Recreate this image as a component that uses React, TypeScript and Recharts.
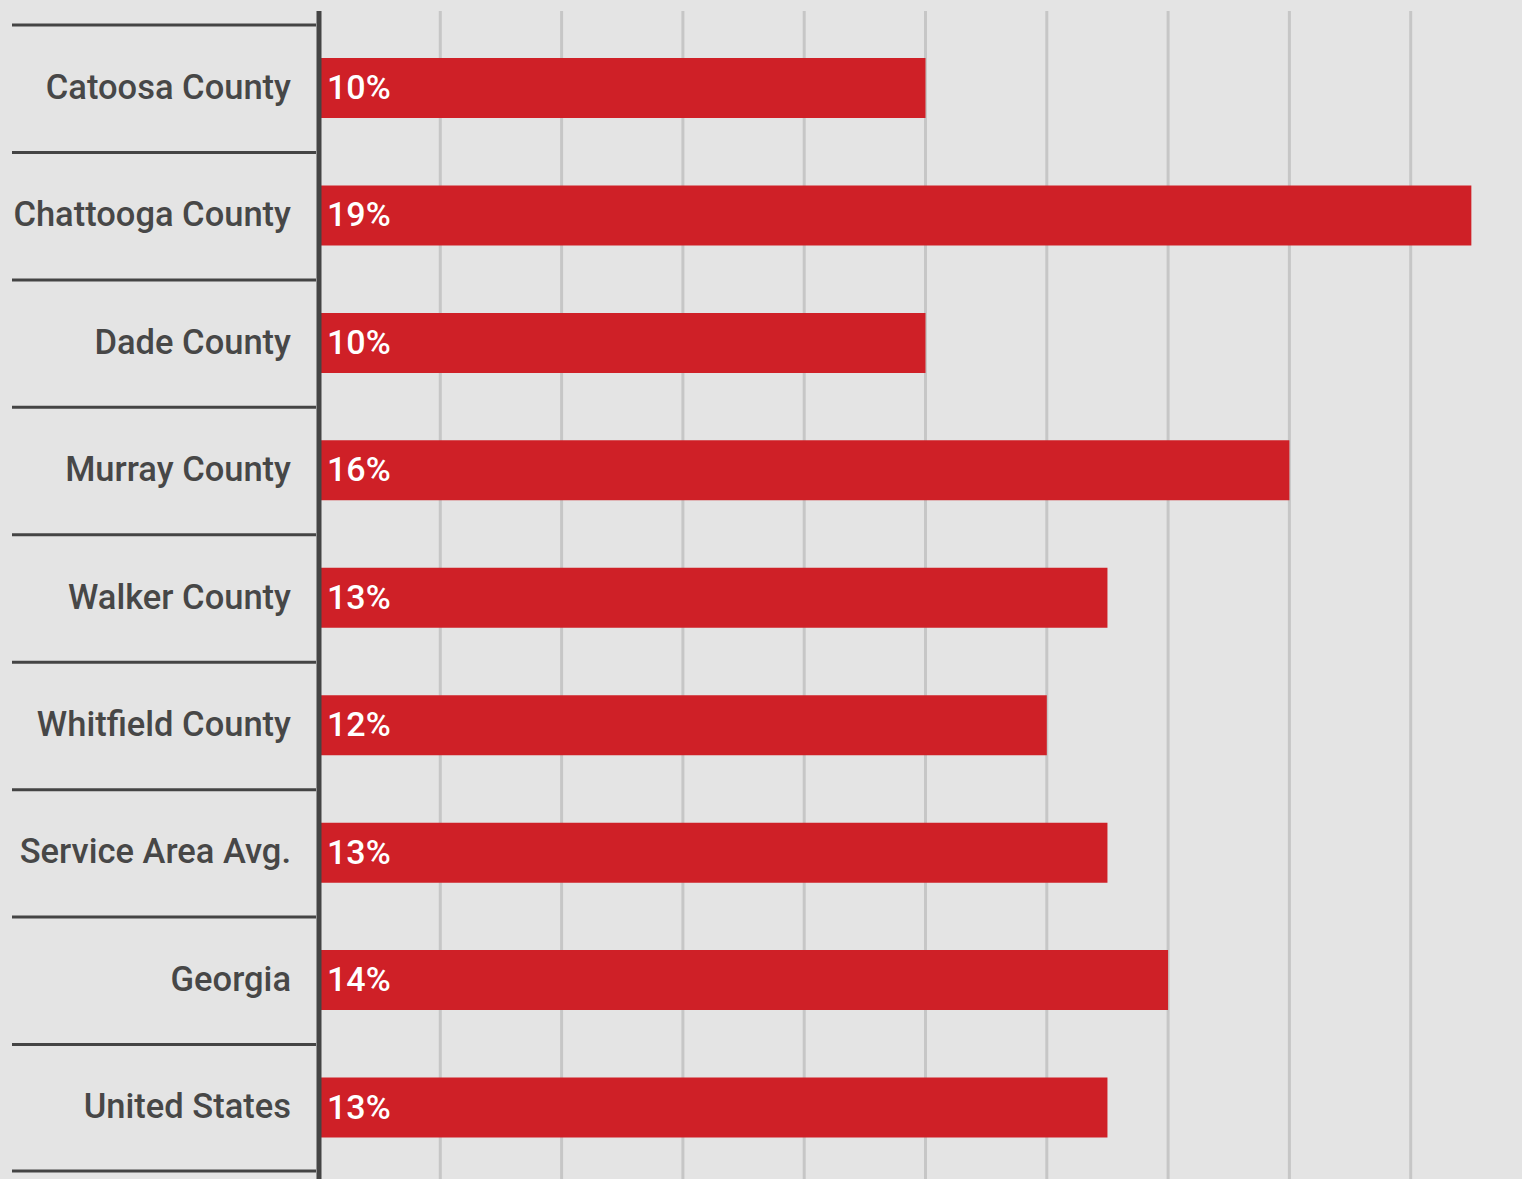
import { BarChart, Bar, XAxis, YAxis, CartesianGrid, LabelList } from "recharts";

const categories = [
  "Catoosa County",
  "Chattooga County",
  "Dade County",
  "Murray County",
  "Walker County",
  "Whitfield County",
  "Service Area Avg.",
  "Georgia",
  "United States",
];
const values = [10, 19, 10, 16, 13, 12, 13, 14, 13];
const xTicks = [0, 2, 4, 6, 8, 10, 12, 14, 16, 18, 20];

const data = categories.map((name, i) => ({ name, value: values[i] }));

const FONT = "Roboto, 'Noto Sans', sans-serif";
const TEXT = "#474747";
const BAR = "#cf2027";

const CHART_H = 1200;
const TOP = 11;
const BOTTOM = 14;
const PAD_TOP = 13;
const PAD_BOTTOM = 15;
const BAND = (CHART_H - TOP - BOTTOM - PAD_TOP - PAD_BOTTOM) / categories.length;

function CategoryTick(props: any) {
  const { y, payload, index } = props;
  const last = index === categories.length - 1;
  return (
    <g>
      <line x1={12} x2={316} y1={y - BAND / 2 + 1} y2={y - BAND / 2 + 1} stroke="#444" strokeWidth={3} />
      {last && (
        <line x1={12} x2={316} y1={y + BAND / 2} y2={y + BAND / 2} stroke="#444" strokeWidth={3} />
      )}
      <text
        x={291}
        y={y + 11}
        textAnchor="end"
        fill={TEXT}
        fontFamily={FONT}
        fontWeight={500}
        fontSize={34.5}
      >
        {payload.value}
      </text>
    </g>
  );
}

function ValueLabel(props: any) {
  const { x, y, height, value } = props;
  return (
    <text
      x={x + 8}
      y={y + height / 2 + 11}
      fill="#fff"
      fontFamily={FONT}
      fontWeight={500}
      fontSize={34}
    >
      {value}%
    </text>
  );
}

export default function App() {
  return (
    <div
      style={{
        position: "fixed",
        top: 0,
        left: 0,
        width: 1522,
        height: 1179,
        overflow: "hidden",
        background: "#e4e4e4",
      }}
    >
      <BarChart
        width={1540}
        height={CHART_H}
        data={data}
        layout="vertical"
        margin={{ top: TOP, right: 8, bottom: BOTTOM, left: 0 }}
      >
        <CartesianGrid horizontal={false} stroke="#c6c6c6" strokeWidth={3} />
        <XAxis type="number" domain={[0, 20]} ticks={xTicks} hide />
        <YAxis
          type="category"
          dataKey="name"
          width={319}
          padding={{ top: PAD_TOP, bottom: PAD_BOTTOM }}
          axisLine={{ stroke: "#444", strokeWidth: 5 }}
          tickLine={false}
          tick={<CategoryTick />}
          interval={0}
        />
        <Bar dataKey="value" fill={BAR} barSize={60} isAnimationActive={false}>
          <LabelList dataKey="value" content={<ValueLabel />} />
        </Bar>
      </BarChart>
    </div>
  );
}
